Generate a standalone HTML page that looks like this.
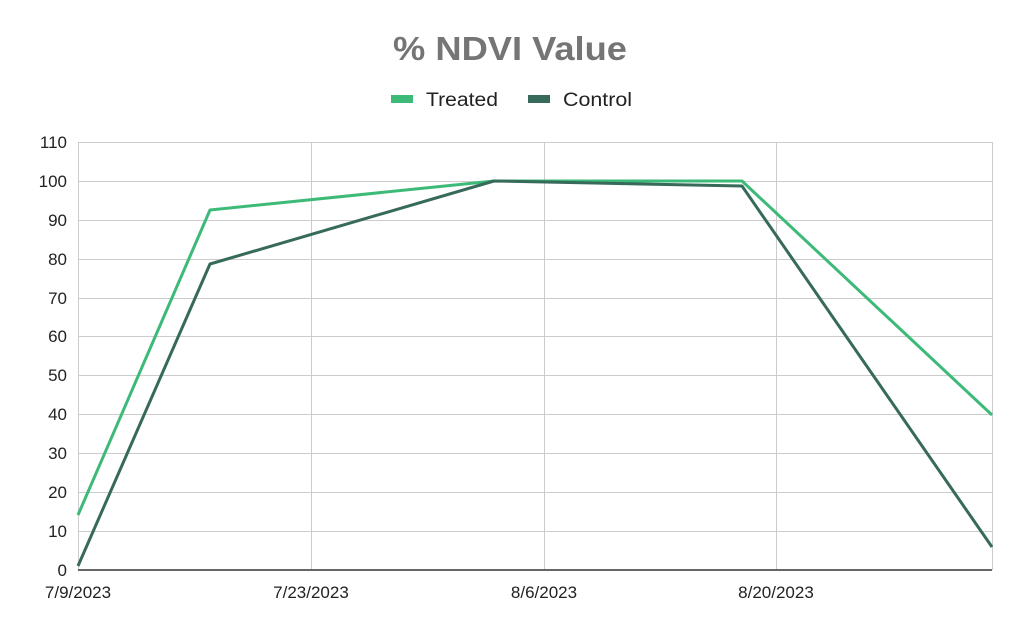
<!DOCTYPE html>
<html><head><style>body{margin:0;background:#fff}svg{display:block}</style></head><body>
<svg width="1024" height="634" xmlns="http://www.w3.org/2000/svg" font-family="Liberation Sans, Arial, sans-serif">
<rect width="1024" height="634" fill="#fff"/>
<text x="510" y="60" text-anchor="middle" font-size="33" font-weight="bold" fill="#757575" textLength="234" lengthAdjust="spacingAndGlyphs">% NDVI Value</text>
<rect x="391" y="95" width="22" height="8" fill="#3dba78"/>
<text x="426" y="106" font-size="19" fill="#222" textLength="72" lengthAdjust="spacingAndGlyphs">Treated</text>
<rect x="528" y="95" width="22" height="8" fill="#376a5b"/>
<text x="563" y="106" font-size="19" fill="#222" textLength="69" lengthAdjust="spacingAndGlyphs">Control</text>
<g stroke="#cccccc" stroke-width="1">
<line x1="78" y1="142.5" x2="992" y2="142.5"/><line x1="78" y1="181.5" x2="992" y2="181.5"/>
<line x1="78" y1="220.5" x2="992" y2="220.5"/><line x1="78" y1="259.5" x2="992" y2="259.5"/>
<line x1="78" y1="298.5" x2="992" y2="298.5"/><line x1="78" y1="336.5" x2="992" y2="336.5"/>
<line x1="78" y1="375.5" x2="992" y2="375.5"/><line x1="78" y1="414.5" x2="992" y2="414.5"/>
<line x1="78" y1="453.5" x2="992" y2="453.5"/><line x1="78" y1="492.5" x2="992" y2="492.5"/>
<line x1="78" y1="531.5" x2="992" y2="531.5"/>
<line x1="78.5" y1="142" x2="78.5" y2="570"/><line x1="311.5" y1="142" x2="311.5" y2="570"/>
<line x1="544.5" y1="142" x2="544.5" y2="570"/><line x1="776.5" y1="142" x2="776.5" y2="570"/>
<line x1="992.5" y1="142" x2="992.5" y2="570"/>
</g>
<line x1="78" y1="570" x2="992" y2="570" stroke="#333" stroke-width="1.5"/>
<g font-size="17" fill="#222" text-anchor="end">
<text x="67" y="148">110</text><text x="67" y="187">100</text><text x="67" y="226">90</text>
<text x="67" y="265">80</text><text x="67" y="304">70</text><text x="67" y="342">60</text>
<text x="67" y="381">50</text><text x="67" y="420">40</text><text x="67" y="459">30</text>
<text x="67" y="498">20</text><text x="67" y="537">10</text><text x="67" y="576">0</text>
</g>
<g font-size="17" fill="#222" text-anchor="middle">
<text x="78" y="598">7/9/2023</text><text x="311" y="598">7/23/2023</text>
<text x="544" y="598">8/6/2023</text><text x="776" y="598">8/20/2023</text>
</g>
<polyline fill="none" stroke="#3dba78" stroke-width="3" stroke-linejoin="round" points="78,515 210,210 494,181 742,181 992,415"/>
<polyline fill="none" stroke="#376a5b" stroke-width="3" stroke-linejoin="round" points="78,566 210,264 494,181 742,186 992,547"/>
</svg>
</body></html>
